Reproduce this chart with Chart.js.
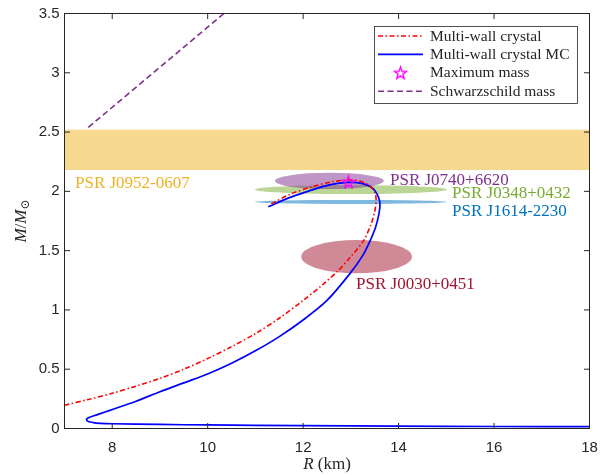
<!DOCTYPE html>
<html>
<head>
<meta charset="utf-8">
<script src="https://cdn.jsdelivr.net/npm/chart.js@4.4.0/dist/chart.umd.min.js"></script>
<style>
  html, body { margin: 0; padding: 0; background: #fff; }
  #wrap { width: 600px; height: 475px; }
</style>
</head>
<body>
<div id="wrap"><canvas id="chart" width="600" height="475"></canvas></div>
<script>
// ---- values ----
const xTicks = [8, 10, 12, 14, 16, 18];
const yTicks = [0, 0.5, 1, 1.5, 2, 2.5, 3, 3.5];

// Multi-wall crystal (R in km, M in solar masses)
const crystalR = [7.0, 7.5, 8.0, 8.5, 9.0, 9.5, 10.0, 10.5, 11.0, 11.5, 12.0, 12.4, 12.74, 13.0, 13.26, 13.42, 13.5, 13.53, 13.5, 13.4, 13.2, 12.95, 12.6, 12.2, 11.75, 11.31];
const crystalM = [0.196, 0.245, 0.297, 0.357, 0.423, 0.50, 0.59, 0.69, 0.80, 0.93, 1.08, 1.21, 1.334, 1.45, 1.58, 1.72, 1.83, 1.93, 1.99, 2.045, 2.085, 2.095, 2.08, 2.04, 1.98, 1.89];

// Multi-wall crystal MC
const crystalMcR = [18, 16, 14, 12, 10, 9, 8, 7.75, 7.6, 7.5, 7.46, 7.5, 7.6, 7.75, 7.95, 8.5, 9.0, 9.5, 10.0, 10.5, 11.0, 11.5, 12.0, 12.5, 12.98, 13.25, 13.4, 13.52, 13.59, 13.61, 13.58, 13.46, 13.25, 12.95, 12.55, 12.1, 11.7, 11.27];
const crystalMcM = [0.015, 0.017, 0.02, 0.024, 0.03, 0.034, 0.04, 0.044, 0.05, 0.059, 0.075, 0.091, 0.105, 0.125, 0.153, 0.23, 0.31, 0.385, 0.46, 0.55, 0.655, 0.775, 0.915, 1.08, 1.306, 1.46, 1.581, 1.70, 1.815, 1.89, 1.95, 2.025, 2.065, 2.076, 2.055, 2.0, 1.945, 1.87];

const schwarzR = [7.5, 10.34];
const schwarzM = [2.54, 3.5];

const maxMassR = [12.95];
const maxMassM = [2.08];

// PSR J0952-0607 mass band
const bandName = 'PSR J0952-0607';
const bandM = [2.18, 2.52];

// pulsar constraints drawn as ellipses: centre and half-widths
const pulsarNames = ['PSR J0030+0451', 'PSR J1614-2230', 'PSR J0348+0432', 'PSR J0740+6620'];
const pulsarR = [13.12, 13.0, 13.0, 12.55];
const pulsarM = [1.449, 1.911, 2.015, 2.088];
const pulsarDR = [1.16, 2.01, 2.01, 1.14];
const pulsarDM = [0.14, 0.017, 0.038, 0.069];

// ---- styling ----
const pulsarColors = ['#A2142F', '#0072BD', '#77AC30', '#7E2F8E'];
const bandColor = '#EDB120';
// where each label sits (left edge, vertical middle), in axis units
const pulsarLabelAt = [[13.11, 1.213], [15.12, 1.828], [15.12, 1.983], [13.82, 2.095]];
const bandLabelAt = [7.22, 2.063];

const axisColor = '#262626';
const serif = '"Liberation Serif", "DejaVu Serif", serif';
const sans = '"Liberation Sans", Arial, sans-serif';

function pts(xs, ys) {
    return xs.map((v, i) => ({ x: v, y: ys[i] }));
}

function withAlpha(hex, a) {
    const n = parseInt(hex.slice(1), 16);
    return 'rgba(' + (n >> 16) + ',' + ((n >> 8) & 255) + ',' + (n & 255) + ',' + a + ')';
}

// hollow five-pointed star, like the MATLAB 'p' marker
function starMarker(size, color) {
    const c = document.createElement('canvas');
    c.width = c.height = size;
    const g = c.getContext('2d');
    const r = size / 2 - 1.2, ri = r * 0.4, cx = size / 2, cy = size / 2 + r * 0.1;
    g.beginPath();
    for (let k = 0; k < 10; k++) {
        const rad = k % 2 ? ri : r;
        const ang = -Math.PI / 2 + k * Math.PI / 5;
        g.lineTo(cx + rad * Math.cos(ang), cy + rad * Math.sin(ang));
    }
    g.closePath();
    g.strokeStyle = color;
    g.lineWidth = 1.4;
    g.stroke();
    return c;
}
const star = starMarker(15, '#FF00FF');

const overlays = {
    id: 'overlays',
    beforeDatasetsDraw(chart) {
        const { ctx, chartArea: a, scales: { x, y } } = chart;
        ctx.save();
        ctx.beginPath();
        ctx.rect(a.left, a.top, a.width, a.height);
        ctx.clip();

        const yTop = y.getPixelForValue(bandM[1]);
        const yBot = y.getPixelForValue(bandM[0]);
        ctx.fillStyle = withAlpha(bandColor, 0.5);
        ctx.fillRect(a.left, yTop, a.width, yBot - yTop);

        pulsarNames.forEach((name, i) => {
            const cx = x.getPixelForValue(pulsarR[i]);
            const cy = y.getPixelForValue(pulsarM[i]);
            const rx = Math.abs(x.getPixelForValue(pulsarR[i] + pulsarDR[i]) - cx);
            const ry = Math.abs(y.getPixelForValue(pulsarM[i] + pulsarDM[i]) - cy);
            ctx.fillStyle = withAlpha(pulsarColors[i], 0.5);
            ctx.beginPath();
            ctx.ellipse(cx, cy, rx, ry, 0, 0, Math.PI * 2);
            ctx.fill();
        });
        ctx.restore();

        ctx.save();
        ctx.font = '17px ' + serif;
        ctx.textBaseline = 'middle';
        ctx.textAlign = 'left';
        ctx.fillStyle = bandColor;
        ctx.fillText(bandName, x.getPixelForValue(bandLabelAt[0]), y.getPixelForValue(bandLabelAt[1]));
        pulsarNames.forEach((name, i) => {
            ctx.fillStyle = pulsarColors[i];
            ctx.fillText(name, x.getPixelForValue(pulsarLabelAt[i][0]), y.getPixelForValue(pulsarLabelAt[i][1]));
        });
        ctx.restore();
    },

    afterDraw(chart) {
        const { ctx, chartArea: a, scales: { x, y } } = chart;
        ctx.save();
        ctx.strokeStyle = axisColor;
        ctx.lineWidth = 1;
        ctx.strokeRect(a.left, a.top, a.width, a.height);

        // inward ticks on all four sides
        const tl = 5.5;
        ctx.beginPath();
        xTicks.forEach(v => {
            const px = x.getPixelForValue(v);
            ctx.moveTo(px, a.bottom); ctx.lineTo(px, a.bottom - tl);
            ctx.moveTo(px, a.top); ctx.lineTo(px, a.top + tl);
        });
        yTicks.forEach(v => {
            const py = y.getPixelForValue(v);
            ctx.moveTo(a.left, py); ctx.lineTo(a.left + tl, py);
            ctx.moveTo(a.right, py); ctx.lineTo(a.right - tl, py);
        });
        ctx.stroke();

        // axis titles
        ctx.fillStyle = axisColor;
        ctx.textBaseline = 'middle';
        ctx.font = 'italic 17px ' + serif;
        const wR = ctx.measureText('R').width;
        ctx.font = '17px ' + serif;
        const wKm = ctx.measureText(' (km)').width;
        const cx = (a.left + a.right) / 2;
        let sx = cx - (wR + wKm) / 2;
        ctx.textAlign = 'left';
        ctx.font = 'italic 17px ' + serif;
        ctx.fillText('R', sx, 465);
        ctx.font = '17px ' + serif;
        ctx.fillText(' (km)', sx + wR, 465);

        ctx.save();
        ctx.translate(22, (a.top + a.bottom) / 2);
        ctx.rotate(-Math.PI / 2);
        ctx.font = 'italic 17px ' + serif;
        const wM = ctx.measureText('M').width;
        ctx.font = '17px ' + serif;
        const wSl = ctx.measureText('/').width;
        ctx.font = '12px ' + serif;
        const wSun = ctx.measureText('\u2299').width;
        sx = -(wM * 2 + wSl + wSun) / 2;
        ctx.font = 'italic 17px ' + serif;
        ctx.fillText('M', sx, 0);
        ctx.font = '17px ' + serif;
        ctx.fillText('/', sx + wM, 0);
        ctx.font = 'italic 17px ' + serif;
        ctx.fillText('M', sx + wM + wSl, 0);
        ctx.font = '12px ' + serif;
        ctx.fillText('\u2299', sx + 2 * wM + wSl, 4);
        ctx.restore();

        // legend box, top right
        const lx = 374, ly = 26, lw = 203, lh = 77, rowH = 18.4;
        ctx.fillStyle = '#ffffff';
        ctx.fillRect(lx, ly, lw, lh);
        ctx.lineWidth = 0.8;
        ctx.strokeStyle = axisColor;
        ctx.strokeRect(lx + 0.5, ly + 0.5, lw, lh);
        ctx.font = '15.5px ' + serif;
        ctx.textAlign = 'left';
        ctx.textBaseline = 'middle';
        chart.data.datasets.forEach((ds, i) => {
            const ry = ly + 10 + i * rowH;
            if (ds.showLine) {
                ctx.save();
                ctx.strokeStyle = ds.borderColor;
                ctx.lineWidth = ds.borderWidth;
                ctx.setLineDash(ds.borderDash || []);
                ctx.beginPath();
                ctx.moveTo(lx + 4, ry);
                ctx.lineTo(lx + 49, ry);
                ctx.stroke();
                ctx.restore();
            } else {
                ctx.drawImage(star, lx + 26.5 - star.width / 2, ry - star.height / 2);
            }
            ctx.fillStyle = axisColor;
            ctx.fillText(ds.label, lx + 56, ry + 0.5);
        });
        ctx.restore();
    }
};

new Chart(document.getElementById('chart'), {
    type: 'scatter',
    data: {
        datasets: [
            {
                label: 'Multi-wall crystal',
                data: pts(crystalR, crystalM),
                showLine: true,
                borderColor: '#FF0000',
                borderWidth: 1.6,
                borderDash: [5, 2.5, 1.5, 2.5],
                pointRadius: 0,
                tension: 0.3,
                order: 1
            },
            {
                label: 'Multi-wall crystal MC',
                data: pts(crystalMcR, crystalMcM),
                showLine: true,
                borderColor: '#0000FF',
                borderWidth: 1.7,
                pointRadius: 0,
                tension: 0.3,
                order: 2
            },
            {
                label: 'Maximum mass',
                data: pts(maxMassR, maxMassM),
                showLine: false,
                pointStyle: star,
                pointRadius: 6,
                order: 0
            },
            {
                label: 'Schwarzschild mass',
                data: pts(schwarzR, schwarzM),
                showLine: true,
                borderColor: '#7E2F8E',
                borderWidth: 1.6,
                borderDash: [6, 3.5],
                pointRadius: 0,
                order: 3
            }
        ]
    },
    options: {
        responsive: false,
        animation: false,
        devicePixelRatio: 1,
        layout: { padding: { top: 13.5, right: 10.5, left: 0, bottom: 0 } },
        plugins: { legend: { display: false }, tooltip: { enabled: false } },
        scales: {
            x: {
                type: 'linear',
                min: 7,
                max: 18,
                afterBuildTicks: s => { s.ticks = xTicks.map(v => ({ value: v })); },
                afterFit: s => { s.height = 46.5; s.paddingLeft = 0; s.paddingRight = 0; },
                grid: { display: false, drawTicks: false },
                border: { display: false },
                ticks: { color: axisColor, font: { family: sans, size: 15 }, padding: 10, maxRotation: 0, autoSkip: false, callback: v => String(v) }
            },
            y: {
                type: 'linear',
                min: 0,
                max: 3.5,
                afterBuildTicks: s => { s.ticks = yTicks.map(v => ({ value: v })); },
                afterFit: s => { s.width = 64.5; s.paddingTop = 0; s.paddingBottom = 0; },
                grid: { display: false, drawTicks: false },
                border: { display: false },
                ticks: { color: axisColor, font: { family: sans, size: 15 }, padding: 5, autoSkip: false, callback: v => String(v) }
            }
        }
    },
    plugins: [overlays]
});
</script>
</body>
</html>
